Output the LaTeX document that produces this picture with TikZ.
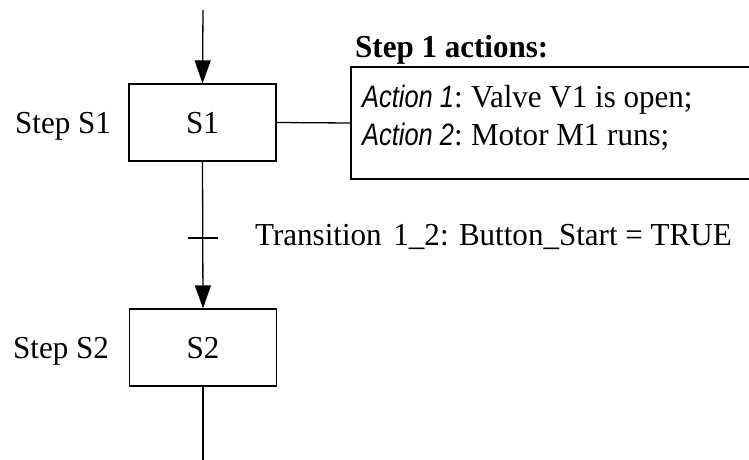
\documentclass[tikz,border=0pt]{standalone}
\usepackage{fontspec}
\setmainfont[FakeStretch=0.97]{Liberation Serif}
\newfontfamily\arialfont[FakeStretch=0.82]{Liberation Sans}
\usetikzlibrary{arrows.meta}
\begin{document}
\begin{tikzpicture}[x=1pt,y=-1pt,
  every node/.style={font=\fontsize{32}{38}\selectfont},
  txt/.style={inner sep=0pt},
  stepbox/.style={draw,line width=1.3pt,minimum width=147pt,minimum height=77pt,inner sep=0pt},
  actbox/.style={draw,line width=1.3pt,minimum width=420pt,minimum height=112pt,inner sep=0pt},
  conn/.style={line width=1.3pt},
  arr/.style={conn,-{Triangle[width=16pt,length=23pt]}}]
\clip (0,0) rectangle (749,460);
\useasboundingbox (0,0) rectangle (749,460);
% steps
\node[stepbox] (s1) at (202.5,122.5) {};
\node[stepbox] (s2) at (203,347.5) {};
\node[txt,anchor=base] (s1t) at (202.5,133) {S1};
\node[txt,anchor=base] (s2t) at (203,358) {S2};
\node[txt,anchor=base west] (l1) at (15,133) {Step S1};
\node[txt,anchor=base west] (l2) at (13,358) {Step S2};
% action box
\node[actbox] (act) at (561,123) {};
\node[txt,anchor=base west] (acth) at (355,57) {\bfseries Step 1 actions:};
\node[txt,anchor=base west] (a1) at (362,107) {{\arialfont\itshape\fontsize{31}{36}\selectfont Action 1}:\kern-2pt{} Valve V1 is open;};
\node[txt,anchor=base west] (a2) at (362,145) {{\arialfont\itshape\fontsize{31}{36}\selectfont Action 2}:\kern-2pt{} Motor M1 runs;};
% transition
\coordinate (tin) at (203,10);
\coordinate (tout) at (203,460);
\coordinate (tr) at (203,238);
\node[txt,anchor=base west] (trt) at (255,245) {Transition\hspace{4pt} 1\_2: Button\_Start = TRUE};
% connectors
\draw[arr] (tin) -- (s1.north);
\draw[arr] (s1.south) -- (s2.north);
\draw[conn] (s2.south) -- (tout);
\draw[conn] ([xshift=-15pt]tr) -- ([xshift=15pt]tr);
\draw[conn] (s1.east) -- (act.west);
\end{tikzpicture}
\end{document}
